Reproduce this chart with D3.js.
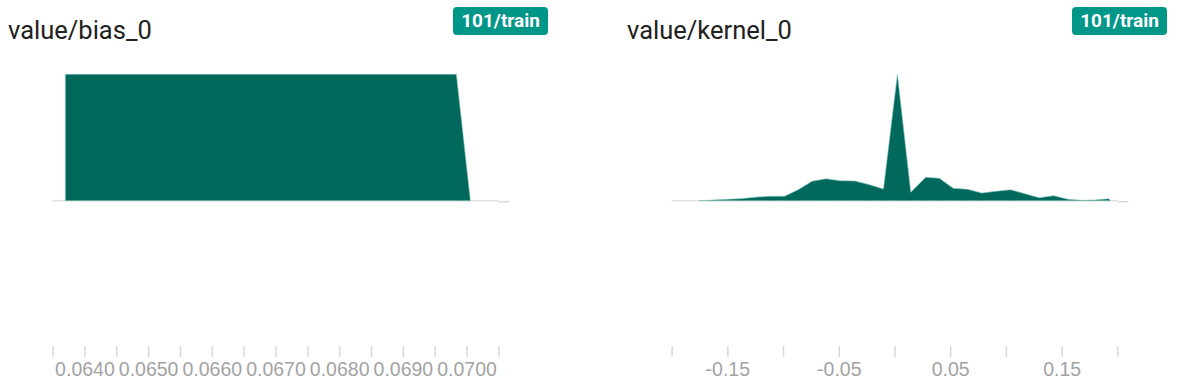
<!DOCTYPE html>
<html>
<head>
<meta charset="utf-8">
<script src="https://cdn.jsdelivr.net/npm/d3@7"></script>
<style>
  body { margin: 0; background: #fff; }
  svg { display: block; }
</style>
</head>
<body>
<div id="chart"></div>
<script>
// histogram outlines (value, relative count)
const biasX = [0.06370, 0.06370, 0.06984, 0.07006];
const biasY = [0, 126.4, 126.4, 0];

const kernelX = [-0.1756, -0.1501, -0.1382, -0.1233, -0.1114, -0.0988, -0.0869, -0.0740,
  -0.0615, -0.0487, -0.0353, -0.0225, -0.0099, 0.0026, 0.0146, 0.0280, 0.0402, 0.0527,
  0.0656, 0.0782, 0.0910, 0.1041, 0.1169, 0.1297, 0.1429, 0.1557, 0.1677, 0.1796, 0.1924, 0.1936];
const kernelY = [0, 1.4, 2, 3.7, 4.4, 4.4, 10.7, 19.4, 22, 20, 19.7, 16, 11.7, 126.4, 8.4,
  23.4, 22.4, 12.4, 11.4, 7.7, 9.4, 11, 7, 3, 5, 1.4, 0.4, 0.7, 2, 0];

// axes
const biasDomain = [0.0635, 0.0705];
const biasTicks = d3.range(15).map(i => 0.0635 + i * 0.0005);
const biasLabels = ["0.0640", "0.0650", "0.0660", "0.0670", "0.0680", "0.0690", "0.0700"];

const kernelDomain = [-0.2, 0.2];
const kernelTicks = d3.range(9).map(i => -0.2 + i * 0.05);
const kernelLabels = ["-0.15", "-0.05", "0.05", "0.15"];

const titles = ["value/bias_0", "value/kernel_0"];
const runLabel = "101/train";

const width = 1187;
const height = 388;
const panelOffset = 619;

const svg = d3.select("#chart").append("svg")
    .attr("width", width)
    .attr("height", height);

const panels = [
  { title: titles[0], xs: biasX, ys: biasY, domain: biasDomain, ticks: biasTicks, labels: biasLabels },
  { title: titles[1], xs: kernelX, ys: kernelY, domain: kernelDomain, ticks: kernelTicks, labels: kernelLabels }
];

panels.forEach((p, i) => drawPanel(p, i * panelOffset));

function drawPanel(p, offset) {
    const g = svg.append("g").attr("transform", `translate(${offset},0)`);

    const x = d3.scaleLinear().domain(p.domain).range([52.6, 498.4]);
    const y = d3.scaleLinear().domain([0, d3.max(p.ys)]).range([200.7, 74.3]);

    // title
    g.append("text")
        .attr("x", 8)
        .attr("y", 39)
        .style("font-family", "Roboto")
        .style("font-size", "25.5px")
        .style("fill", "#212121")
        .text(p.title);

    // run badge
    const badge = g.append("g").attr("transform", "translate(453,7)");
    badge.append("rect")
        .attr("width", 95)
        .attr("height", 28)
        .attr("rx", 4)
        .attr("fill", "#009688");
    badge.append("text")
        .attr("x", 47.5)
        .attr("y", 20)
        .attr("text-anchor", "middle")
        .style("font-family", "Roboto")
        .style("font-weight", "bold")
        .style("font-size", "19px")
        .style("fill", "#fff")
        .text(runLabel);

    // baseline
    g.append("line")
        .attr("x1", x.range()[0]).attr("x2", x.range()[1])
        .attr("y1", y(0)).attr("y2", y(0))
        .attr("stroke", "#e3e3e3")
        .attr("stroke-width", 1.5);
    g.append("line")
        .attr("x1", x.range()[1]).attr("x2", x.range()[1] + 11)
        .attr("y1", y(0) + 1).attr("y2", y(0) + 1)
        .attr("stroke", "#dadada")
        .attr("stroke-width", 1.5);

    // histogram area
    const pts = p.xs.map((v, j) => [v, p.ys[j]]);
    const area = d3.area()
        .x(d => x(d[0]))
        .y0(y(0))
        .y1(d => y(d[1]));
    g.append("path")
        .datum(pts)
        .attr("d", area)
        .attr("fill", "#00695c")
        .attr("stroke", "#8cc7bf")
        .attr("stroke-width", 0.6);

    // x axis
    const axis = d3.axisBottom(x)
        .tickValues(p.ticks)
        .tickSize(11)
        .tickPadding(5)
        .tickFormat(d => {
            const k = p.labels.findIndex(l => Math.abs(+l - d) < 1e-9);
            return k >= 0 ? p.labels[k] : "";
        });
    const ax = g.append("g")
        .attr("transform", "translate(0,346)")
        .call(axis);
    ax.select(".domain").remove();
    ax.selectAll(".tick line")
        .attr("stroke", "#d9d9d9")
        .attr("stroke-width", 1.5);
    ax.selectAll(".tick text")
        .style("font-family", "'Liberation Sans', Arial, sans-serif")
        .style("font-size", "19.5px")
        .style("fill", "#a3a3a3");
}
</script>
</body>
</html>
